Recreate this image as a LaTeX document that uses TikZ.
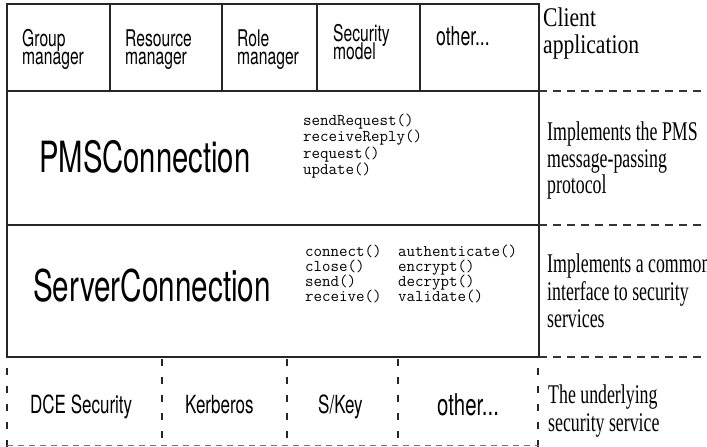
\documentclass[tikz,border=0pt]{standalone}
\usepackage{fontspec}
\newfontfamily\hv[FakeStretch=0.68]{TeX Gyre Heros}
\newfontfamily\tm[FakeStretch=0.66]{Liberation Serif}
\newfontfamily\tmw[FakeStretch=0.8]{Liberation Serif}
\setmonofont{Latin Modern Mono}
\tikzset{
  solidline/.style={line width=1.3pt, black!85},
  rdash/.style={line width=1.1pt, black!80, dash pattern=on 8pt off 6pt},
  vdash/.style={line width=1.1pt, black!85, dash pattern=on 7pt off 11pt},
  bdash/.style={line width=0.9pt, black!55, dash pattern=on 6pt off 5pt},
  toplbl/.style={anchor=base west, inner sep=0pt, font=\hv\fontsize{23}{23}\selectfont},
  biglbl/.style={anchor=base west, inner sep=0pt, font=\hv\fontsize{43}{43}\selectfont},
  botlbl/.style={anchor=base west, inner sep=0pt, font=\hv\fontsize{25}{25}\selectfont},
  notelbl/.style={anchor=base west, inner sep=0pt, font=\tm\fontsize{27}{27}\selectfont},
  codelbl/.style={anchor=base west, inner sep=0pt, font=\ttfamily\fontsize{16.5}{16.5}\selectfont},
}
\begin{document}
\begin{tikzpicture}[x=1pt,y=-1pt]
\useasboundingbox (0,0) rectangle (707,447);
% grid of the stack
\draw[solidline] (7,4) rectangle (539,357);
\draw[solidline] (7,91) -- (539,91);
\draw[solidline] (7,225) -- (539,225);
\foreach \x in {110,222,317,420} \draw[solidline] (\x,4) -- (\x,91);
% right-hand dashed separators
\draw[rdash] (539,91) -- (707,91);
\draw[rdash] (539,225) -- (707,225);
\draw[rdash] (539,357) -- (707,357);
% bottom row
\draw[vdash] (7,368) -- (7,447);
\foreach \x in {162,287,398} \draw[vdash] (\x,359) -- (\x,447);
\draw[vdash] (538,368) -- (538,447);
\draw[bdash] (7,445.5) -- (539,445.5);
% top row labels
\node[toplbl] (g1) at (22,46) {Group};
\node[toplbl] (g2) at (22,64.5) {manager};
\node[toplbl] (r1) at (125,46) {Resource};
\node[toplbl] (r2) at (125,64.5) {manager};
\node[toplbl] (o1) at (237,46) {Role};
\node[toplbl] (o2) at (237,64.5) {manager};
\node[toplbl] (s1) at (333,41) {Security};
\node[toplbl] (s2) at (333,59) {model};
\node[toplbl, font=\hv\fontsize{26}{26}\selectfont] (ot) at (436,45) {other...};
% big class names
\node[biglbl] (pms) at (39,172) {PMSConnection};
\node[biglbl, font=\hv\fontsize{43.6}{43.6}\selectfont] (srv) at (33,301) {ServerConnection};
% methods
\node[codelbl] (m1) at (303,125) {sendRequest()};
\node[codelbl] (m2) at (303,141.5) {receiveReply()};
\node[codelbl] (m3) at (303,158) {request()};
\node[codelbl] (m4) at (303,174.5) {update()};
\node[codelbl] (c1) at (305,256) {connect()};
\node[codelbl] (c2) at (305,271) {close()};
\node[codelbl] (c3) at (305,286) {send()};
\node[codelbl] (c4) at (305,301) {receive()};
\node[codelbl] (d1) at (398,256) {authenticate()};
\node[codelbl] (d2) at (398,271) {encrypt()};
\node[codelbl] (d3) at (398,286) {decrypt()};
\node[codelbl] (d4) at (398,301) {validate()};
% bottom labels
\node[botlbl] (b1) at (30,413) {DCE Security};
\node[botlbl] (b2) at (185,413) {Kerberos};
\node[botlbl] (b3) at (318,413) {S/Key};
\node[botlbl, font=\hv\fontsize{30}{30}\selectfont] (b4) at (437,415) {other...};
% notes
\node[notelbl, font=\tmw\fontsize{27}{27}\selectfont] (n1) at (543,27) {Client};
\node[notelbl, font=\tmw\fontsize{27}{27}\selectfont] (n2) at (543,53) {application};
\node[notelbl] (n3) at (547,140) {Implements the PMS};
\node[notelbl] (n4) at (547,167) {message-passing};
\node[notelbl] (n5) at (547,193) {protocol};
\node[notelbl] (n6) at (547,272) {Implements a common};
\node[notelbl] (n7) at (547,300) {interface to security};
\node[notelbl] (n8) at (547,327) {services};
\node[notelbl] (n9) at (548,403) {The underlying};
\node[notelbl] (n10) at (548,431) {security service};
\end{tikzpicture}
\end{document}
